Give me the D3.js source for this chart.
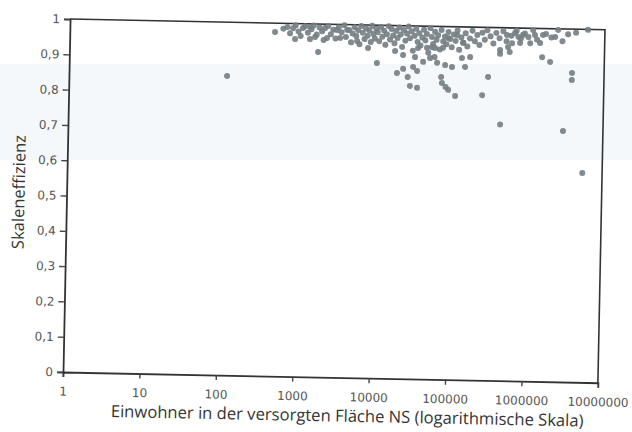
<!DOCTYPE html>
<html>
<head>
<meta charset="utf-8">
<script src="https://cdn.jsdelivr.net/npm/d3@7"></script>
<style>
  body { margin: 0; background: #fff; }
  svg { display: block; }
</style>
</head>
<body>
<script>
const width = 632;
const height = 432;

// Einwohner (population served) and scale efficiency
const einwohner = [
  117, 450000, 3000000, 5500000, 3800000, 3800000, 257000, 114000, 92000, 85000,
  76000, 74000, 304000, 36000, 29000, 27000, 19500, 23400, 35700, 10600,
  1790, 8050, 5760, 18200, 23200, 31600, 33300, 42600, 36300, 47500,
  52400, 60600, 77000, 64900, 82800, 102000, 151000, 137000, 175000, 140000,
  89000, 117000, 430000, 430000, 546000, 614000, 781000, 1060000, 1430000, 1220000,
  1550000, 2240000, 1530000, 1950000, 668000, 851000, 741000, 2440000, 6000000, 575000,
  525000, 484, 887, 1390, 1620, 2320, 3440, 4240, 3130, 2180,
  1390, 1120, 830, 60000, 55000,
  620, 700, 760, 900, 980, 1050, 1200, 1300, 1450, 1550,
  1700, 1850, 2000, 2100, 2400, 2600, 2800, 3000, 3300, 3600,
  3900, 4100, 4500, 4800, 5000, 5300, 5600, 5900, 6200, 6500,
  6800, 7200, 7500, 7900, 8300, 8700, 9000, 9400, 9800, 10200,
  10700, 11200, 11800, 12300, 12900, 13500, 14100, 14800, 15500, 16200,
  17000, 17800, 18600, 19500, 20400, 21400, 22400, 23500, 24600, 25800,
  27000, 28300, 29600, 31000, 32500, 34000, 35600, 37300, 39000, 41000,
  43000, 45000, 47000, 49500, 52000, 54500, 57000, 60000, 63000, 66000,
  70000, 73000, 77000, 81000, 85000, 90000, 95000, 100000, 106000, 112000,
  118000, 125000, 133000, 142000, 151000, 160000, 172000, 185000, 200000, 215000,
  230000, 250000, 270000, 290000, 320000, 350000, 380000, 420000, 470000, 520000,
  600000, 700000, 800000, 900000, 1000000, 1150000, 1300000, 1700000, 2000000, 2800000,
  3300000, 4200000
];
const effizienz = [
  0.848, 0.726, 0.711, 0.593, 0.876, 0.856, 0.808, 0.804, 0.821, 0.829,
  0.840, 0.857, 0.860, 0.825, 0.830, 0.855, 0.866, 0.878, 0.873, 0.893,
  0.921, 0.935, 0.954, 0.928, 0.917, 0.884, 0.912, 0.899, 0.938, 0.939,
  0.910, 0.939, 0.940, 0.897, 0.891, 0.886, 0.887, 0.912, 0.915, 0.955,
  0.968, 0.977, 0.937, 0.926, 0.946, 0.957, 0.958, 0.958, 0.959, 0.981,
  0.982, 0.977, 0.919, 0.906, 0.986, 0.981, 0.975, 0.997, 0.999, 0.932,
  0.980, 0.975, 0.956, 0.957, 0.963, 0.961, 0.962, 0.985, 0.984, 0.989,
  0.991, 0.988, 0.987, 0.913, 0.941,
  0.985, 0.990, 0.972, 0.995, 0.978, 0.965, 0.993, 0.975, 0.985, 0.996,
  0.970, 0.990, 0.980, 0.955, 0.995, 0.972, 0.985, 0.960, 0.992, 0.978,
  0.998, 0.965, 0.985, 0.950, 0.975, 0.993, 0.968, 0.985, 0.945, 0.997,
  0.978, 0.960, 0.990, 0.970, 0.985, 0.952, 0.998, 0.975, 0.962, 0.990,
  0.980, 0.955, 0.995, 0.968, 0.985, 0.945, 0.975, 0.998, 0.960, 0.990,
  0.972, 0.950, 0.985, 0.965, 0.995, 0.975, 0.940, 0.988, 0.958, 0.978,
  0.998, 0.965, 0.985, 0.930, 0.972, 0.992, 0.955, 0.980, 0.945, 0.968,
  0.990, 0.960, 0.978, 0.925, 0.995, 0.970, 0.950, 0.985, 0.962, 0.975,
  0.935, 0.990, 0.958, 0.972, 0.950, 0.985, 0.965, 0.942, 0.978, 0.960,
  0.990, 0.935, 0.970, 0.955, 0.982, 0.945, 0.968, 0.990, 0.960, 0.978,
  0.950, 0.985, 0.965, 0.992, 0.975, 0.955, 0.985, 0.970, 0.990, 0.962,
  0.978, 0.992, 0.970, 0.985, 0.975, 0.995, 0.968, 0.985, 0.975, 0.965,
  0.985, 0.990
];
const xTicks = [1, 10, 100, 1000, 10000, 100000, 1000000, 10000000];
const yTicks = [0, 0.1, 0.2, 0.3, 0.4, 0.5, 0.6, 0.7, 0.8, 0.9, 1];
const xTitle = "Einwohner in der versorgten Fläche NS (logarithmische Skala)";
const yTitle = "Skaleneffizienz";

const points = einwohner.map((e, i) => ({ e, s: effizienz[i] }));

const plotW = 535;
const plotH = 353;

const svg = d3
  .select("body")
  .append("svg")
  .attr("width", width)
  .attr("height", height);

// faint tint band of the scanned page
svg
  .append("rect")
  .attr("x", 0)
  .attr("y", 64)
  .attr("width", width)
  .attr("height", 96)
  .attr("fill", "#f4f8fb");

// the scan is turned a little, so the whole chart is too
const chart = svg
  .append("g")
  .attr("transform", "translate(63, 372) rotate(1.15)");

const x = d3.scaleLog().domain([1, 1e7]).range([0, plotW]);
const y = d3.scaleLinear().domain([0, 1]).range([0, -plotH]);

// frame (top and right)
chart
  .append("path")
  .attr("d", `M0,${y(1)}H${x(1e7)}V0`)
  .attr("fill", "none")
  .attr("stroke", "#333")
  .attr("stroke-width", 1.6);

const xAxis = d3
  .axisBottom(x)
  .tickValues(xTicks)
  .tickFormat(d3.format("d"))
  .tickSize(5)
  .tickPadding(10);

const yAxis = d3
  .axisLeft(y)
  .tickValues(yTicks)
  .tickFormat((d) => (d === 0 || d === 1 ? String(d) : d.toFixed(1).replace(".", ",")))
  .tickSize(6)
  .tickPadding(4);

const gx = chart.append("g").call(xAxis);
const gy = chart.append("g").call(yAxis);

[gx, gy].forEach((g) => {
  g.select(".domain").attr("stroke", "#333").attr("stroke-width", 1.8);
  g.selectAll(".tick line").attr("stroke", "#444").attr("stroke-width", 1.4);
  g.selectAll(".tick text")
    .attr("fill", "#555")
    .style("font-family", "DejaVu Sans")
    .style("font-size", "12px");
});

// points
chart
  .append("g")
  .selectAll("circle")
  .data(points)
  .enter()
  .append("circle")
  .attr("cx", (d) => x(d.e))
  .attr("cy", (d) => y(d.s))
  .attr("r", 3)
  .attr("fill", "#737d83")
  .attr("fill-opacity", 0.9);

// axis titles
chart
  .append("text")
  .attr("x", 285)
  .attr("y", 44)
  .attr("text-anchor", "middle")
  .attr("fill", "#333")
  .style("font-family", "Open Sans")
  .style("font-size", "16.6px")
  .text(xTitle);

chart
  .append("text")
  .attr("transform", "translate(-42, -179) rotate(-90)")
  .attr("text-anchor", "middle")
  .attr("fill", "#333")
  .style("font-family", "Open Sans")
  .style("font-size", "16.5px")
  .text(yTitle);
</script>
</body>
</html>
